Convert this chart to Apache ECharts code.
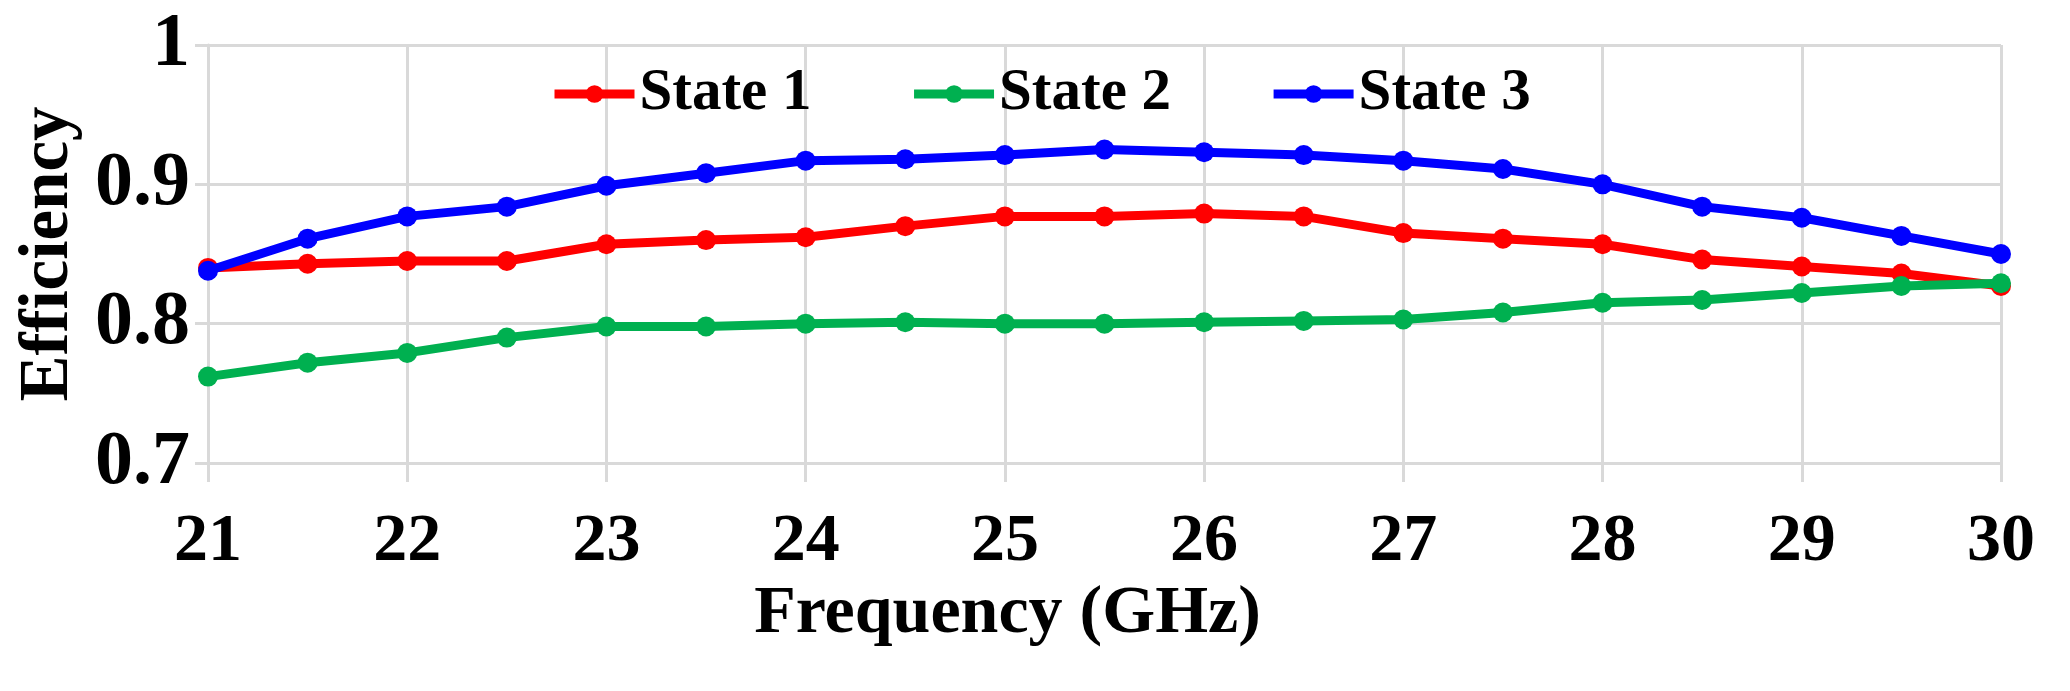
<!DOCTYPE html>
<html>
<head>
<meta charset="utf-8">
<script src="https://cdn.jsdelivr.net/npm/echarts@6/dist/echarts.min.js"></script>
<style>
html,body{margin:0;padding:0;background:#fff;}
#chart{width:2070px;height:691px;}
</style>
</head>
<body>
<div id="chart"></div>
<script>
var freqs = [21, 21.5, 22, 22.5, 23, 23.5, 24, 24.5, 25, 25.5, 26, 26.5, 27, 27.5, 28, 28.5, 29, 29.5, 30];
var state1 = [0.840, 0.843, 0.845, 0.845, 0.857, 0.860, 0.862, 0.870, 0.877, 0.877, 0.879, 0.877, 0.865, 0.861, 0.857, 0.846, 0.841, 0.836, 0.827];
var state2 = [0.762, 0.772, 0.779, 0.790, 0.798, 0.798, 0.800, 0.801, 0.800, 0.800, 0.801, 0.802, 0.803, 0.808, 0.815, 0.817, 0.822, 0.827, 0.829];
var state3 = [0.838, 0.861, 0.877, 0.884, 0.899, 0.908, 0.917, 0.918, 0.921, 0.925, 0.923, 0.921, 0.917, 0.911, 0.900, 0.884, 0.876, 0.863, 0.850];
var seriesNames = ['State 1', 'State 2', 'State 3'];
var seriesColors = ['#FF0000', '#00B050', '#0000FF'];
var xAxisTitle = 'Frequency (GHz)';
var yAxisTitle = 'Efficiency';

var FONT = "'Liberation Serif', 'Times New Roman', serif";
function pairs(ys) { return freqs.map(function (f, i) { return [f, ys[i]]; }); }
var allSeries = [state1, state2, state3];

var chart = echarts.init(document.getElementById('chart'), null, {renderer: 'canvas'});
chart.setOption({
  animation: false,
  backgroundColor: '#ffffff',
  grid: {left: 208, right: 69, top: 45, bottom: 228, containLabel: false},
  legend: {
    left: 545, top: 59,
    itemWidth: 80, itemHeight: 22, itemGap: 98,
    lineStyle: {width: 9},
    textStyle: {fontFamily: FONT, fontWeight: 'bold', fontSize: 59, color: '#000', lineHeight: 60},
    data: seriesNames.map(function (n) { return {name: n, itemStyle: {}}; })
  },
  xAxis: {
    type: 'value', min: 21, max: 30, interval: 1,
    name: xAxisTitle, nameLocation: 'middle', nameGap: 117,
    nameTextStyle: {fontFamily: FONT, fontWeight: 'bold', fontSize: 68, color: '#000', padding: [0, 194, 0, 0]},
    axisLine: {show: true, lineStyle: {color: '#D9D9D9', width: 3}},
    axisTick: {show: true, length: 19, lineStyle: {color: '#D9D9D9', width: 3}},
    axisLabel: {fontFamily: FONT, fontWeight: 'bold', fontSize: 68, color: '#000', margin: 79, verticalAlign: 'middle'},
    splitLine: {show: true, lineStyle: {color: '#D9D9D9', width: 3}}
  },
  yAxis: {
    type: 'value', min: 0.7, max: 1.0, interval: 0.1,
    name: yAxisTitle, nameLocation: 'middle', nameGap: 120, nameRotate: 90,
    nameTextStyle: {fontFamily: FONT, fontWeight: 'bold', fontSize: 69, color: '#000'},
    axisLine: {show: true, lineStyle: {color: '#D9D9D9', width: 3}},
    axisTick: {show: true, length: 13, lineStyle: {color: '#D9D9D9', width: 3}},
    axisLabel: {fontFamily: FONT, fontWeight: 'bold', fontSize: 76, color: '#000', margin: 18, verticalAlign: 'middle', padding: [0, 0, 14, 0],
      formatter: function (v) { return String(Math.round(v * 10) / 10); }},
    splitLine: {show: true, lineStyle: {color: '#D9D9D9', width: 3}}
  },
  series: seriesNames.map(function (n, i) {
    return {
      name: n, type: 'line', data: pairs(allSeries[i]),
      symbol: 'circle', symbolSize: 20,
      lineStyle: {color: seriesColors[i], width: 9},
      itemStyle: {color: seriesColors[i]},
      z: 2 + i
    };
  })
});
</script>
</body>
</html>
